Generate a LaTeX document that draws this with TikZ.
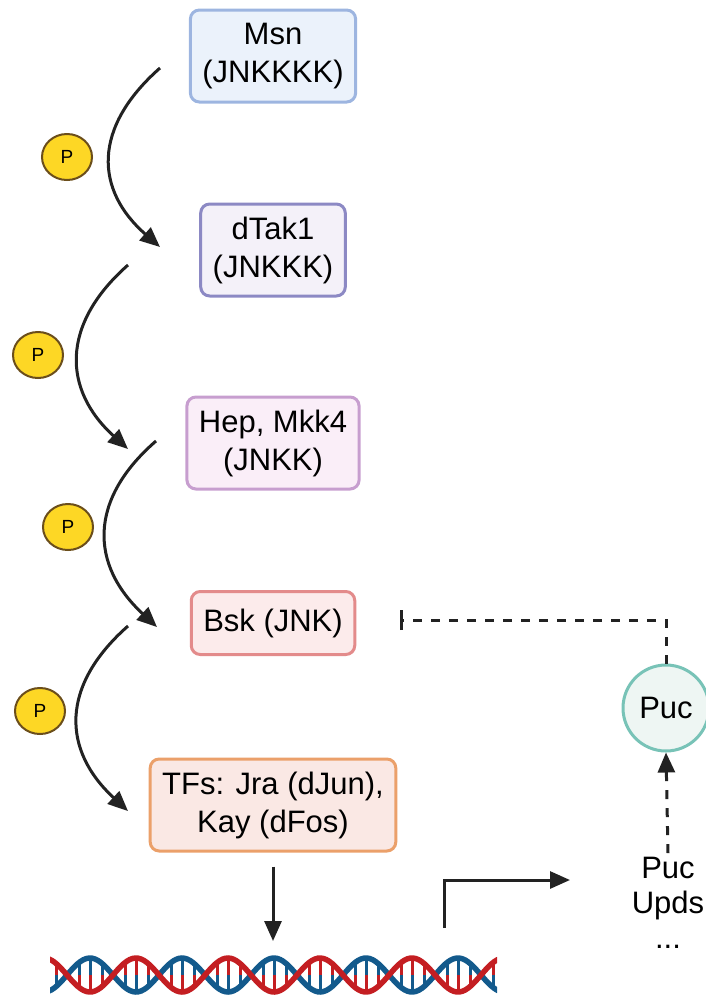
\documentclass[tikz,border=0pt]{standalone}
\usepackage{fontspec}
\setmainfont{Liberation Sans}
\usetikzlibrary{arrows.meta,shapes.geometric}

\definecolor{msnfill}{HTML}{EBF2FB}\definecolor{msnline}{HTML}{9DB5E0}
\definecolor{takfill}{HTML}{F4F1F9}\definecolor{takline}{HTML}{8C89C4}
\definecolor{hepfill}{HTML}{FAEEF8}\definecolor{hepline}{HTML}{C79ECF}
\definecolor{bskfill}{HTML}{FCEBEB}\definecolor{bskline}{HTML}{E38B8B}
\definecolor{tffill}{HTML}{FAE8E4}\definecolor{tfline}{HTML}{EBA06A}
\definecolor{pucfill}{HTML}{EEF6F3}\definecolor{pucline}{HTML}{78C3B7}
\definecolor{pfill}{HTML}{FDD725}\definecolor{pline}{HTML}{6B4E1B}
\definecolor{dnablue}{HTML}{135A8C}\definecolor{dnared}{HTML}{C41E22}
\definecolor{flecha}{HTML}{222222}

\begin{document}
\begin{tikzpicture}[x=1pt,y=-1pt,
    caja/.style={draw, rounded corners=9pt, line width=3pt, align=center,
      inner xsep=12pt, minimum height=92pt,
      font=\fontsize{31}{38}\selectfont},
    fosfo/.style={ellipse, draw=pline, fill=pfill, line width=2pt,
      minimum width=50pt, minimum height=46pt, inner sep=0pt,
      font=\fontsize{19}{21}\selectfont},
    paso/.style={flecha, line width=3pt, -{Triangle[length=20pt,width=17pt]}},
    inhib/.style={flecha, line width=3pt, dash pattern=on 9pt off 9pt},
  ]
  \useasboundingbox (0,0) rectangle (705,997);

  % Cascada de quinasas
  \node[caja, draw=msnline, fill=msnfill] (msn) at (273,56) {Msn\\(JNKKKK)};
  \node[caja, draw=takline, fill=takfill] (tak) at (273,250) {dTak1\\(JNKKK)};
  \node[caja, draw=hepline, fill=hepfill] (hep) at (273,443) {Hep, Mkk4\\(JNKK)};
  \node[caja, draw=bskline, fill=bskfill, minimum height=63pt] (bsk) at (273,623) {Bsk (JNK)};
  \node[caja, draw=tfline, fill=tffill] (tfs) at (273,805) {TFs: Jra (dJun),\\Kay (dFos)};

  % Fosforilaciones
  \node[fosfo] (p1) at (67,157) {P};
  \node[fosfo] (p2) at (38,355) {P};
  \node[fosfo] (p3) at (68,527) {P};
  \node[fosfo] (p4) at (40,711) {P};

  \coordinate (a1) at (160,68);  \coordinate (b1) at (160,247);
  \coordinate (a2) at (128,265); \coordinate (b2) at (128,449);
  \coordinate (a3) at (156,441); \coordinate (b3) at (157,627);
  \coordinate (a4) at (128,626); \coordinate (b4) at (128,811);
  \draw[paso] (a1) .. controls (92,128) and (95,190) .. (b1);
  \draw[paso] (a2) .. controls (60,325) and (63,390) .. (b2);
  \draw[paso] (a3) .. controls (88,500) and (90,565) .. (b3);
  \draw[paso] (a4) .. controls (60,686) and (62,750) .. (b4);

  % Puc y la retroalimentacion negativa
  \node[circle, draw=pucline, fill=pucfill, line width=3pt, minimum size=86pt,
    inner sep=0pt, font=\fontsize{31}{36}\selectfont] (puc) at (666,708) {Puc};
  \node[align=center, font=\fontsize{31}{35}\selectfont, inner sep=0pt]
    (diana) at (668,903) {Puc\\Upds\\...};
  \coordinate (d0) at ([yshift=4pt]diana.north);
  \draw[inhib, -{Triangle[length=20pt,width=17pt]}] (d0) -- (puc.south);
  \coordinate (barra) at (400,620);
  \draw[inhib, -{Bar[width=20pt]}] (puc.north) |- (barra);

  % Transcripcion
  \coordinate (t0) at ([yshift=-14pt]tfs.south);
  \coordinate (adn) at (273,941);
  \draw[paso] (t0) -- (adn);
  \coordinate (prom) at (444,928);
  \coordinate (tx) at (570,880);
  \draw[paso] (prom) |- (tx);

  % Doble helice
  \begin{scope}
    \clip (50,950) rectangle (497,1000);
    \foreach \i in {0,...,38} {
      \pgfmathsetmacro\xx{50+11.5*\i+6}
      \pgfmathsetmacro\cc{cos(3.913*(\xx-44))}
      \pgfmathtruncatemacro\ok{abs(\cc)>0.3}
      \ifnum\ok=1
        \draw[dnared, line width=3pt] (\xx,{975-17*\cc}) -- (\xx,975);
        \draw[dnablue, line width=3pt] (\xx,975) -- (\xx,{975+17*\cc});
      \fi
    }
    \draw[dnablue, line width=5.5pt] plot[domain=40:500, samples=160, smooth]
      (\x,{975+17*cos(3.913*(\x-44))});
    \draw[dnared, line width=5.5pt] plot[domain=40:500, samples=160, smooth]
      (\x,{975-17*cos(3.913*(\x-44))});
  \end{scope}
\end{tikzpicture}
\end{document}
